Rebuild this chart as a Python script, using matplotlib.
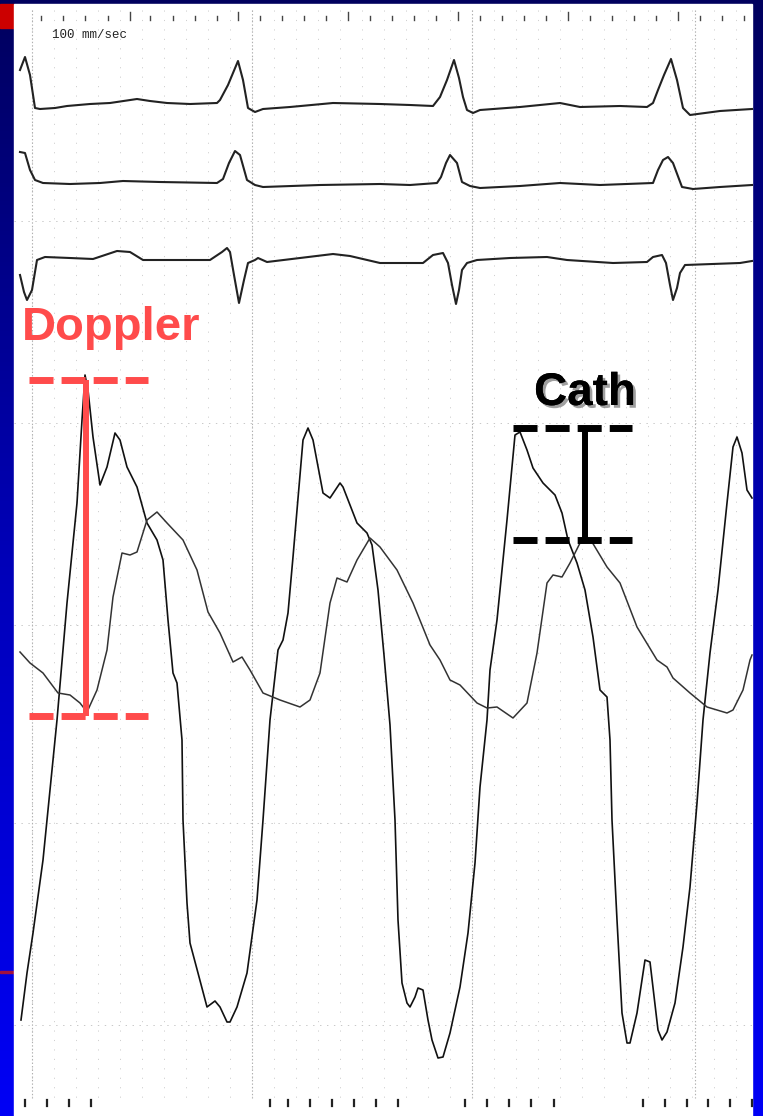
import numpy as np
import matplotlib
matplotlib.use('Agg')
import matplotlib.pyplot as plt
from matplotlib.patches import Rectangle
from matplotlib.colors import LinearSegmentedColormap
import matplotlib.patheffects as pe

plt.rcParams['lines.scale_dashes'] = False

# ECG leads (x along the paper, y down the paper, both in pixels of the scan)
ecg1_x = [20, 25, 30, 35, 40, 55, 67, 90, 110, 137, 150, 167, 190, 217, 220, 228, 238, 243, 248, 255,
          263, 290, 333, 380, 410, 433, 440, 447, 454, 459, 463, 467, 473, 480, 520, 560, 580, 620, 647,
          653, 658, 664, 671, 677, 683, 690, 720, 752]
ecg1_y = [70, 57, 75, 108, 109, 108, 106, 104, 103, 99, 101, 103, 104, 103, 100, 85, 61, 80, 108, 112,
          109, 107, 103, 104, 105, 106, 97, 80, 60, 78, 97, 110, 113, 110, 107, 103, 107, 106, 107,
          103, 90, 75, 59, 80, 108, 115, 111, 109]

ecg2_x = [20, 25, 30, 35, 43, 70, 100, 123, 160, 217, 223, 229, 235, 240, 247, 255, 263, 320, 380, 410,
          437, 441, 446, 450, 457, 462, 470, 480, 520, 560, 600, 653, 658, 663, 668, 673, 682, 693, 720, 752]
ecg2_y = [152, 153, 170, 180, 183, 184, 183, 181, 182, 183, 179, 163, 151, 155, 180, 185, 187, 185, 184, 185,
          183, 177, 163, 155, 163, 182, 186, 188, 186, 183, 185, 183, 170, 160, 157, 163, 187, 189, 187, 185]

ecg3_x = [20, 24, 27, 32, 37, 45, 70, 93, 117, 130, 143, 180, 210, 222, 227, 230, 234, 239, 244, 248, 255,
          258, 267, 300, 333, 350, 380, 423, 433, 443, 448, 452, 456, 459, 462, 467, 477, 510, 547, 567,
          613, 647, 653, 662, 666, 670, 673, 677, 680, 685, 740, 752]
ecg3_y = [275, 292, 300, 290, 260, 257, 258, 259, 251, 252, 260, 260, 260, 252, 248, 252, 275, 303, 280,
          263, 260, 258, 262, 258, 254, 256, 263, 263, 255, 253, 263, 285, 304, 290, 270, 263, 260, 258,
          257, 260, 263, 262, 257, 255, 263, 285, 300, 288, 273, 265, 263, 261]

# ventricular pressure
lv_x = [21, 27, 33, 43, 53, 57, 67, 77, 82, 85, 88, 93, 100, 107, 115, 120, 127, 137, 147, 157, 163,
        168, 173, 177, 182, 183, 187, 190, 198, 207, 215, 220, 227, 230, 237, 247, 257, 263, 270, 278,
        283, 288, 293, 303, 308, 313, 323, 330, 340, 343, 357, 367, 372, 378, 384, 390, 395, 398, 402,
        407, 410, 415, 418, 423, 428, 432, 438, 443, 450, 460, 468, 475, 480, 487, 490, 497, 507, 515,
        520, 527, 533, 543, 555, 562, 568, 577, 585, 593, 600, 607, 610, 612, 617, 622, 627, 630, 637,
        645, 650, 658, 662, 667, 675, 683, 690, 697, 703, 710, 718, 727, 733, 737, 742, 747, 752]
lv_y = [1020, 973, 933, 860, 760, 720, 603, 503, 420, 375, 390, 437, 485, 467, 433, 440, 467, 487, 523,
        540, 560, 620, 673, 683, 740, 820, 903, 943, 973, 1007, 1001, 1007, 1022, 1022, 1007, 973, 900,
        820, 720, 650, 640, 613, 557, 440, 428, 440, 493, 498, 483, 487, 523, 533, 545, 590, 655, 725,
        820, 920, 983, 1003, 1007, 997, 988, 990, 1020, 1040, 1058, 1057, 1033, 987, 933, 863, 787,
        720, 670, 620, 520, 435, 432, 450, 468, 483, 495, 513, 540, 563, 590, 637, 690, 697, 740, 820,
        920, 1013, 1043, 1043, 1013, 960, 962, 1030, 1040, 1032, 1003, 947, 887, 803, 720, 653, 590,
        503, 447, 437, 453, 490, 498]

# aortic pressure
ao_x = [20, 30, 43, 58, 70, 80, 87, 97, 107, 113, 122, 130, 137, 147, 157, 167, 183, 197, 208, 220,
        233, 242, 250, 263, 280, 300, 310, 320, 330, 337, 347, 357, 370, 380, 397, 413, 430, 440, 450,
        460, 477, 487, 497, 513, 527, 537, 547, 553, 562, 570, 580, 592, 607, 620, 637, 657, 667, 673,
        690, 707, 727, 733, 743, 750, 752]
ao_y = [652, 663, 673, 693, 695, 703, 712, 690, 650, 597, 553, 555, 552, 520, 512, 523, 540, 570, 612,
        633, 662, 657, 670, 693, 700, 707, 700, 673, 603, 578, 582, 560, 538, 547, 570, 603, 645, 660,
        680, 685, 703, 708, 707, 718, 703, 653, 583, 575, 577, 563, 543, 542, 567, 583, 627, 660, 667,
        678, 693, 707, 713, 710, 690, 660, 655]

# gradient markers: (x, top, bottom, left end, right end)
doppler_bar = (86, 380, 716, 29, 148)
cath_bar = (585, 428, 540, 513, 632)

# chart paper ruling
minor_x = np.arange(32, 752, 22)
major_x = [32, 252, 472, 695]
major_y = [19, 221, 423, 625, 823, 1025]
top_ticks = [41, 63, 85, 108, 130, 150, 173, 195, 217, 238, 260, 282, 304, 326, 348, 370, 392, 414,
             436, 458, 480, 502, 524, 546, 568, 590, 612, 634, 656, 678, 700, 722, 744]
top_major = [130, 238, 348, 458, 568, 678]
bottom_ticks = [25, 47, 69, 91, 270, 288, 310, 332, 354, 376, 398, 465, 487, 509, 531, 554,
                643, 665, 687, 708, 730, 752]

W, H = 763, 1116
fig = plt.figure(figsize=(W / 100, H / 100), dpi=100)
ax = fig.add_axes([0, 0, 1, 1])
ax.set_xlim(0, W)
ax.set_ylim(H, 0)
ax.axis('off')

# slide background
blue = LinearSegmentedColormap.from_list('slide', ['#00005e', '#0000b8', '#0000f5'])
grad = np.linspace(0, 1, 256).reshape(-1, 1)
ax.imshow(grad, cmap=blue, extent=(0, W, H, 0), aspect='auto', zorder=0)
ax.add_patch(Rectangle((0, 4), 14, 24, color='#cc0000', zorder=1))
ax.add_patch(Rectangle((0, 971), 14, 2, color='#a01040', zorder=1))
ax.add_patch(Rectangle((14, 4), 738, H - 4, color='white', zorder=1))

# faint grid of the recording paper
for x in minor_x:
    ax.plot([x, x], [10, 1098], color='#cfcfcf', lw=0.7, ls=(0, (0.8, 6)), zorder=2)
for x in major_x:
    ax.plot([x, x], [10, 1098], color='#b0b0b0', lw=0.8, ls=(0, (1, 1.5)), zorder=2)
for y in major_y[1:]:
    ax.plot([14, 752], [y, y], color='#c8c8c8', lw=0.7, ls=(0, (1, 4)), zorder=2)
for x in top_ticks:
    top = 12 if x in top_major else 16
    ax.plot([x, x], [top, 20], color='#444444', lw=1.0, zorder=3)
for x in bottom_ticks:
    ax.plot([x, x], [1100, 1106], color='#222222', lw=1.6, zorder=3)

ax.text(52, 38, '100 mm/sec', fontsize=9, family='Liberation Mono', color='#222222', zorder=3)

# traces
for xs, ys in [(ecg1_x, ecg1_y), (ecg2_x, ecg2_y), (ecg3_x, ecg3_y)]:
    ax.plot(xs, ys, color='#222222', lw=1.5, solid_joinstyle='round', zorder=4)
ax.plot(lv_x, lv_y, color='#111111', lw=1.2, solid_joinstyle='round', zorder=4)
ax.plot(ao_x, ao_y, color='#333333', lw=1.1, solid_joinstyle='round', zorder=4)

# annotations
red = '#ff4b4b'
dash = (0, (17.3, 5.8))
x, top, bot, x0, x1 = doppler_bar
ax.plot([x0, x1], [top, top], color=red, lw=5, ls=dash, dash_capstyle='butt', zorder=5)
ax.plot([x0, x1], [bot, bot], color=red, lw=5, ls=dash, dash_capstyle='butt', zorder=5)
ax.plot([x, x], [top, bot], color=red, lw=4.3, solid_capstyle='butt', zorder=5)
ax.text(22, 340, 'Doppler', color=red, fontsize=34, fontweight='bold',
        family='Liberation Sans', zorder=6)

x, top, bot, x0, x1 = cath_bar
ax.plot([x0, x1], [top, top], color='black', lw=5, ls=dash, dash_capstyle='butt', zorder=5)
ax.plot([x0, x1], [bot, bot], color='black', lw=5, ls=dash, dash_capstyle='butt', zorder=5)
ax.plot([x, x], [top, bot], color='black', lw=4.3, solid_capstyle='butt', zorder=5)
ax.text(585, 405, 'Cath', color='black', fontsize=33, fontweight='bold', ha='center',
        family='Liberation Sans', zorder=6,
        path_effects=[pe.withSimplePatchShadow(offset=(2, -2), shadow_rgbFace='#777777', alpha=0.7),
                      pe.Normal()])

fig.savefig('out.png', dpi=100)
